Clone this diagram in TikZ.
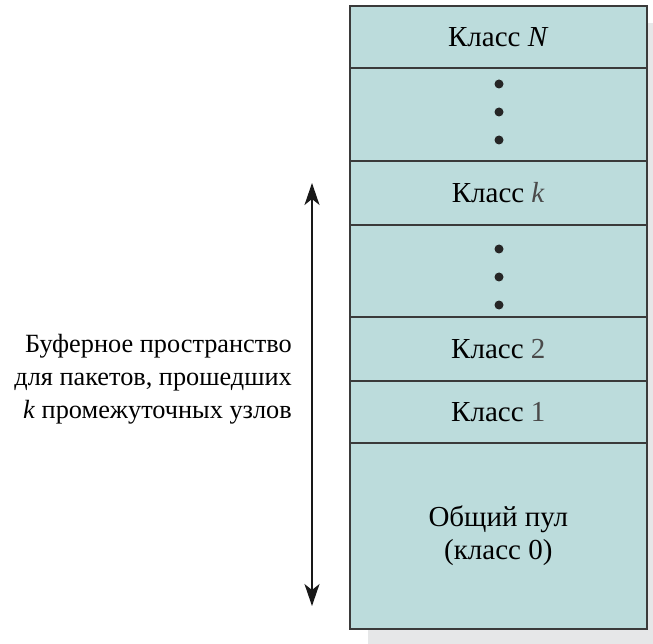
\documentclass[tikz,border=0pt]{standalone}
\usepackage{fontspec}
\setmainfont{Liberation Serif}
\usetikzlibrary{arrows.meta}
\definecolor{cellfill}{HTML}{BCDCDC}
\definecolor{shadowc}{HTML}{E6E7E8}
\definecolor{edgec}{HTML}{3A3A3A}
\definecolor{numc}{HTML}{4A4A4A}
\tikzset{
  cell/.style={draw=edgec, line width=1.6pt, fill=cellfill, minimum width=297pt, inner sep=0pt, font=\fontsize{29}{33}\selectfont},
  dotmark/.style={circle, fill=black!85, inner sep=0pt, minimum size=9pt},
  lbl/.style={font=\fontsize{26.3}{33}\selectfont, align=right, inner sep=0pt}
}
\begin{document}
\begin{tikzpicture}[x=1pt,y=-1pt]
\useasboundingbox (0,0) rectangle (653,644);
\fill[shadowc] (368,23) rectangle (653,644);
\node[cell, minimum height=62pt, anchor=north west] (cN) at (349,5) {Класс \textit{N}};
\node[cell, minimum height=93pt, anchor=north west] (d1) at (349,67) {};
\node[cell, minimum height=64pt, anchor=north west] (ck) at (349,160) {Класс \textcolor{numc}{\textit{k}}};
\node[cell, minimum height=92pt, anchor=north west] (d2) at (349,224) {};
\node[cell, minimum height=64pt, anchor=north west] (c2) at (349,316) {Класс \textcolor{numc}{2}};
\node[cell, minimum height=62pt, anchor=north west] (c1) at (349,380) {Класс \textcolor{numc}{1}};
\node[cell, minimum height=186pt, anchor=north west, align=center] (pool) at (349,442) {Общий пул\\(класс 0)};
\node[dotmark] (a1) at (499,84) {};
\node[dotmark] (a2) at (499,112) {};
\node[dotmark] (a3) at (499,140) {};
\node[dotmark] (b1) at (499,249) {};
\node[dotmark] (b2) at (499,277) {};
\node[dotmark] (b3) at (499,305) {};
\coordinate (atop) at (312,183);
\coordinate (abot) at (312,606);
\draw[line width=1.6pt, black!90, {Stealth[length=22pt,width=15pt,inset=6pt]}-{Stealth[length=22pt,width=15pt,inset=6pt]}] (atop) -- (abot);
\node[lbl, anchor=east] (txt) at (292,379) {Буферное пространство\\для пакетов, прошедших\\\textit{k} промежуточных узлов};
\end{tikzpicture}
\end{document}
